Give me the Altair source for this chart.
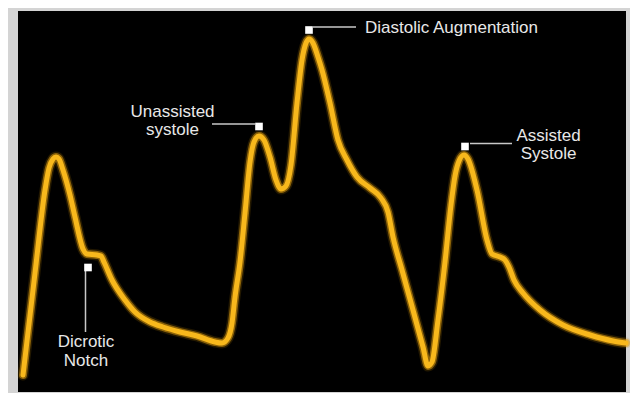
import altair as alt
import pandas as pd

# Arterial pressure waveform (time units, pressure units)
t_vals = [5, 17, 27, 31, 35, 38, 41, 45, 52, 57, 65, 69, 79, 83, 86, 94, 107, 117, 132, 145,
          162, 179, 197, 204, 210, 214, 217, 222, 227, 232, 236, 241, 246, 252, 258, 263, 268,
          273, 279, 284, 288, 291, 295, 300, 304, 312, 320, 329, 339, 352, 363, 370, 375, 384,
          395, 405, 410, 414, 420, 427, 433, 437, 441, 446, 450, 459, 469, 474, 482, 487, 491,
          496, 505, 522, 545, 572, 595, 608]
p_vals = [17, 119, 202, 224, 233, 235, 233, 222, 197, 175, 143, 138, 137, 136, 130, 112, 92, 80,
          70, 65, 60, 56, 50, 49, 54, 69, 95, 130, 179, 230, 250, 256, 252, 235, 212, 203, 206,
          227, 289, 332, 349, 353, 349, 335, 322, 289, 252, 232, 215, 204, 194, 180, 155, 122,
          82, 45, 26, 30, 72, 130, 187, 216, 231, 237, 233, 202, 152, 138, 135, 132, 125, 112,
          99, 82, 67, 57, 51, 49]

# Annotation markers
mark_t = [70, 241, 291, 447]
mark_p = [124.5, 265.5, 362, 245.5]

# Leader lines
lead_t = [67.5, 194, 295, 452]
lead_t2 = [67.5, 237, 338, 494]
lead_p = [121, 268, 365, 248.5]
lead_p2 = [60, 268, 365, 248.5]

# Labels
label_text = ["Dicrotic", "Notch", "Unassisted", "systole", "Diastolic Augmentation", "Assisted", "Systole"]
label_t = [68, 68, 154.5, 154.5, 347, 530.5, 530.5]
label_p = [45, 26, 275, 257, 359, 251, 233]
label_align = ["center", "center", "center", "center", "left", "center", "center"]

wave = pd.DataFrame({"t": t_vals, "p": p_vals})
marks = pd.DataFrame({"t": mark_t, "p": mark_p})
leads = pd.DataFrame({"t": lead_t, "t2": lead_t2, "p": lead_p, "p2": lead_p2})
labels = pd.DataFrame({"label": label_text, "t": label_t, "p": label_p, "align": label_align})

xs = alt.Scale(domain=[0, 608], nice=False, zero=False)
ys = alt.Scale(domain=[0, 381], nice=False, zero=False)
X = alt.X("t:Q", scale=xs, axis=None)
Y = alt.Y("p:Q", scale=ys, axis=None)

glow_outer = alt.Chart(wave).mark_line(
    interpolate="monotone", color="#c98a00", strokeWidth=11, opacity=0.18,
    strokeCap="round", strokeJoin="round"
).encode(x=X, y=Y)
glow_inner = alt.Chart(wave).mark_line(
    interpolate="monotone", color="#e3a00e", strokeWidth=8, opacity=0.55,
    strokeCap="round", strokeJoin="round"
).encode(x=X, y=Y)
core = alt.Chart(wave).mark_line(
    interpolate="monotone", color="#f8b81c", strokeWidth=5,
    strokeCap="round", strokeJoin="round"
).encode(x=X, y=Y)

rules = alt.Chart(leads).mark_rule(color="#c8c8c8", strokeWidth=1.5).encode(
    x=X, x2="t2:Q", y=Y, y2="p2:Q"
)
squares = alt.Chart(marks).mark_square(size=58, color="white", opacity=1).encode(x=X, y=Y)

text_center = alt.Chart(labels[labels["align"] == "center"]).mark_text(
    font="Liberation Sans", fontSize=17, color="#e8e8e8", align="center", baseline="alphabetic"
).encode(x=X, y=Y, text="label:N")
text_left = alt.Chart(labels[labels["align"] == "left"]).mark_text(
    font="Liberation Sans", fontSize=17, color="#e8e8e8", align="left", baseline="alphabetic"
).encode(x=X, y=Y, text="label:N")

chart = alt.layer(glow_outer, glow_inner, core, rules, squares, text_center, text_left).properties(
    width=608, height=381,
    background="#d4d4d4",
    padding={"left": 10, "top": 3, "right": 4, "bottom": 1},
    autosize=alt.AutoSizeParams(type="none"),
).configure_view(fill="black", stroke=None)

chart.save("out.html", embed_options={"renderer": "svg", "actions": False})
